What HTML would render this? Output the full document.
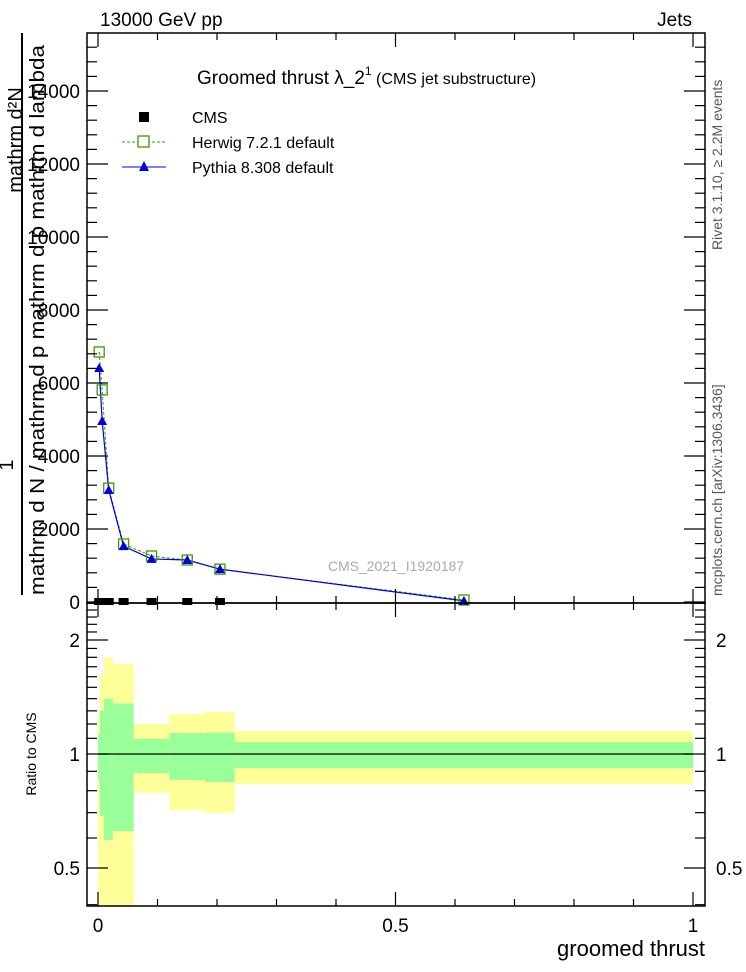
<!DOCTYPE html>
<html><head><meta charset="utf-8"><style>
body{margin:0;background:#fff}
svg{display:block;font-family:"Liberation Sans",sans-serif}
</style></head><body>
<svg id="chart" width="746" height="972" viewBox="0 0 746 972" xmlns="http://www.w3.org/2000/svg">
<g id="bands"></g>
<g id="marks"></g>
<g id="axes"></g>
<text x="100" y="26" font-size="19">13000 GeV pp</text>
<text x="692" y="26" font-size="19" text-anchor="end">Jets</text>
<text x="197" y="84" font-size="19">Groomed thrust  λ_2<tspan font-size="12" dy="-9">1</tspan><tspan font-size="16" dy="9"> (CMS jet substructure)</tspan></text>
<g>
<rect x="139" y="112" width="10" height="10" fill="#000"/>
<text x="192" y="123" font-size="16">CMS</text>
<line x1="122" y1="142" x2="166" y2="142" stroke="#3a9a00" stroke-dasharray="3,2"/>
<rect x="138" y="136" width="11" height="11" fill="#fff" stroke="#3a9a00" stroke-width="1.3"/>
<text x="192" y="148" font-size="16">Herwig 7.2.1 default</text>
<line x1="122" y1="167" x2="166" y2="167" stroke="#0000e0"/>
<polygon points="144,161 149,171 139,171" fill="#0000e0"/>
<text x="192" y="173" font-size="16">Pythia 8.308 default</text>
</g>
<text x="396" y="571" font-size="14" fill="#aaa" text-anchor="middle">CMS_2021_I1920187</text>
<g font-size="20">
<text transform="translate(22,140) rotate(-90)" text-anchor="middle">mathrm d²N</text>
<line x1="22" y1="33" x2="22" y2="595" stroke="#000" stroke-width="2"/>
<text transform="translate(13,465) rotate(-90)" text-anchor="middle">1</text>
<text transform="translate(44,595) rotate(-90)" textLength="550" lengthAdjust="spacingAndGlyphs">mathrm d N / mathrm d p  mathrm d p   mathrm d lambda</text>
</g>
<text transform="translate(36,754) rotate(-90)" font-size="14" text-anchor="middle">Ratio to CMS</text>
<text x="705" y="956" font-size="22" text-anchor="end">groomed thrust</text>
<text transform="translate(722,250) rotate(-90)" font-size="14" fill="#555">Rivet 3.1.10, ≥ 2.2M events</text>
<text transform="translate(722,596) rotate(-90)" font-size="14" fill="#555">mcplots.cern.ch [arXiv:1306.3436]</text>
</svg>
<script>
const xHerwig=[0.002,0.007,0.018,0.043,0.09,0.15,0.205,0.615];
const yHerwig=[6850,5810,3120,1590,1260,1150,900,55];
const xPythia=[0.002,0.007,0.018,0.043,0.09,0.15,0.205,0.615];
const yPythia=[6410,4960,3070,1530,1180,1150,900,30];
const xCMS=[0.002,0.007,0.018,0.043,0.09,0.15,0.205];
const yCMS=[0,0,0,0,0,0,0];
const binEdges=[0,0.003,0.01,0.025,0.06,0.12,0.18,0.23,1.0];
const yellowHi=[1.27,1.61,1.80,1.73,1.20,1.275,1.29,1.15];
const yellowLo=[0.3,0.3,0.3,0.3,0.789,0.711,0.699,0.833];
const greenHi=[1.13,1.30,1.40,1.36,1.096,1.136,1.14,1.075];
const greenLo=[0.854,0.686,0.593,0.626,0.891,0.854,0.843,0.918];
const yTicks=[0,2000,4000,6000,8000,10000,12000,14000];
const xTicks=[0,0.5,1];
const rTicks=[0.5,1,2];

const NS="http://www.w3.org/2000/svg";
const X=v=>98+595*v;
const Y=v=>602-v*73/2000;
const R=v=>Math.min(906,Math.max(603,754-114*Math.log2(v)));
function mk(parent,tag,attrs){const e=document.createElementNS(NS,tag);for(const k in attrs)e.setAttribute(k,attrs[k]);document.getElementById(parent).appendChild(e);return e;}

for(let i=0;i<binEdges.length-1;i++){
  const x0=X(binEdges[i]),x1=X(binEdges[i+1]);
  const yb=mk('bands','rect',{x:x0,y:R(yellowHi[i]),width:x1-x0,height:R(yellowLo[i])-R(yellowHi[i]),fill:'#ffff99'});
  
  
  const gb=mk('bands','rect',{x:x0,y:R(greenHi[i]),width:x1-x0,height:R(greenLo[i])-R(greenHi[i]),fill:'#99ff99'});
  
  
}
const rl=mk('bands','line',{x1:X(0),x2:X(1),y1:R(1),y2:R(1),stroke:'#000','stroke-width':1.2});



const hp=mk('marks','polyline',{points:xHerwig.map((x,i)=>X(x)+','+Y(yHerwig[i])).join(' '),fill:'none',stroke:'#3a9a00','stroke-dasharray':'3,2'});


const pp=mk('marks','polyline',{points:xPythia.map((x,i)=>X(x)+','+Y(yPythia[i])).join(' '),fill:'none',stroke:'#0000e0','stroke-width':1.2});


xCMS.forEach((x,i)=>{const r=mk('marks','rect',{x:X(x)-5,y:Y(yCMS[i])-4,width:10,height:7,fill:'#000'});

});
xHerwig.forEach((x,i)=>{const r=mk('marks','rect',{x:X(x)-5,y:Y(yHerwig[i])-5,width:10,height:10,fill:'none',stroke:'#3a9a00','stroke-width':1.3});

});
xPythia.forEach((x,i)=>{const cx=X(x),cy=Y(yPythia[i]);const p=mk('marks','polygon',{points:cx+','+(cy-5)+' '+(cx+5)+','+(cy+4)+' '+(cx-5)+','+(cy+4),fill:'#0000e0'});

});

const f1=mk('axes','rect',{x:87,y:33,width:618,height:570,fill:'none',stroke:'#000','stroke-width':1.5});


const f2=mk('axes','rect',{x:87,y:603,width:618,height:303,fill:'none',stroke:'#000','stroke-width':1.5});


function ln(a,b,c,d){mk('axes','line',{x1:a,y1:b,x2:c,y2:d,stroke:'#000','stroke-width':1.2});}
for(let v=0;v<=15600;v+=400){const yy=Y(v);if(yy<33)break;const L=(v%2000===0)?21:10;ln(87,yy,87+L,yy);ln(705,yy,705-L,yy);}
yTicks.forEach(v=>{const t=mk('axes','text',{x:80,y:Y(v)+7,'font-size':19,'text-anchor':'end'});t.textContent=v;

});
for(let k=0;k<=10;k++){const v=k/10;const L=(k%5===0)?14:7;const x=X(v);ln(x,603,x,603-L);ln(x,906,x,906-L);ln(x,603,x,603+L);ln(x,33,x,33+L);}
xTicks.forEach(v=>{const t=mk('axes','text',{x:X(v),y:932,'font-size':19,'text-anchor':'middle'});t.textContent=v;

});
[0.3,0.4,0.5,0.6,0.7,0.8,0.9,1,1.1,1.2,1.3,1.4,1.5,1.6,1.7,1.8,1.9,2,2.1,2.2,2.3,2.4,2.5].forEach(v=>{const yy=R(v);if(yy<=603||yy>=906)return;const L=(v===0.5||v===1||v===2)?21:10;ln(87,yy,87+L,yy);ln(705,yy,705-L,yy);});
rTicks.forEach(v=>{[[80,'end'],[716,'start']].forEach(([x,a])=>{const t=mk('axes','text',{x:x,y:R(v)+7,'font-size':19,'text-anchor':a});t.textContent=v;

});});
</script>
</body></html>
